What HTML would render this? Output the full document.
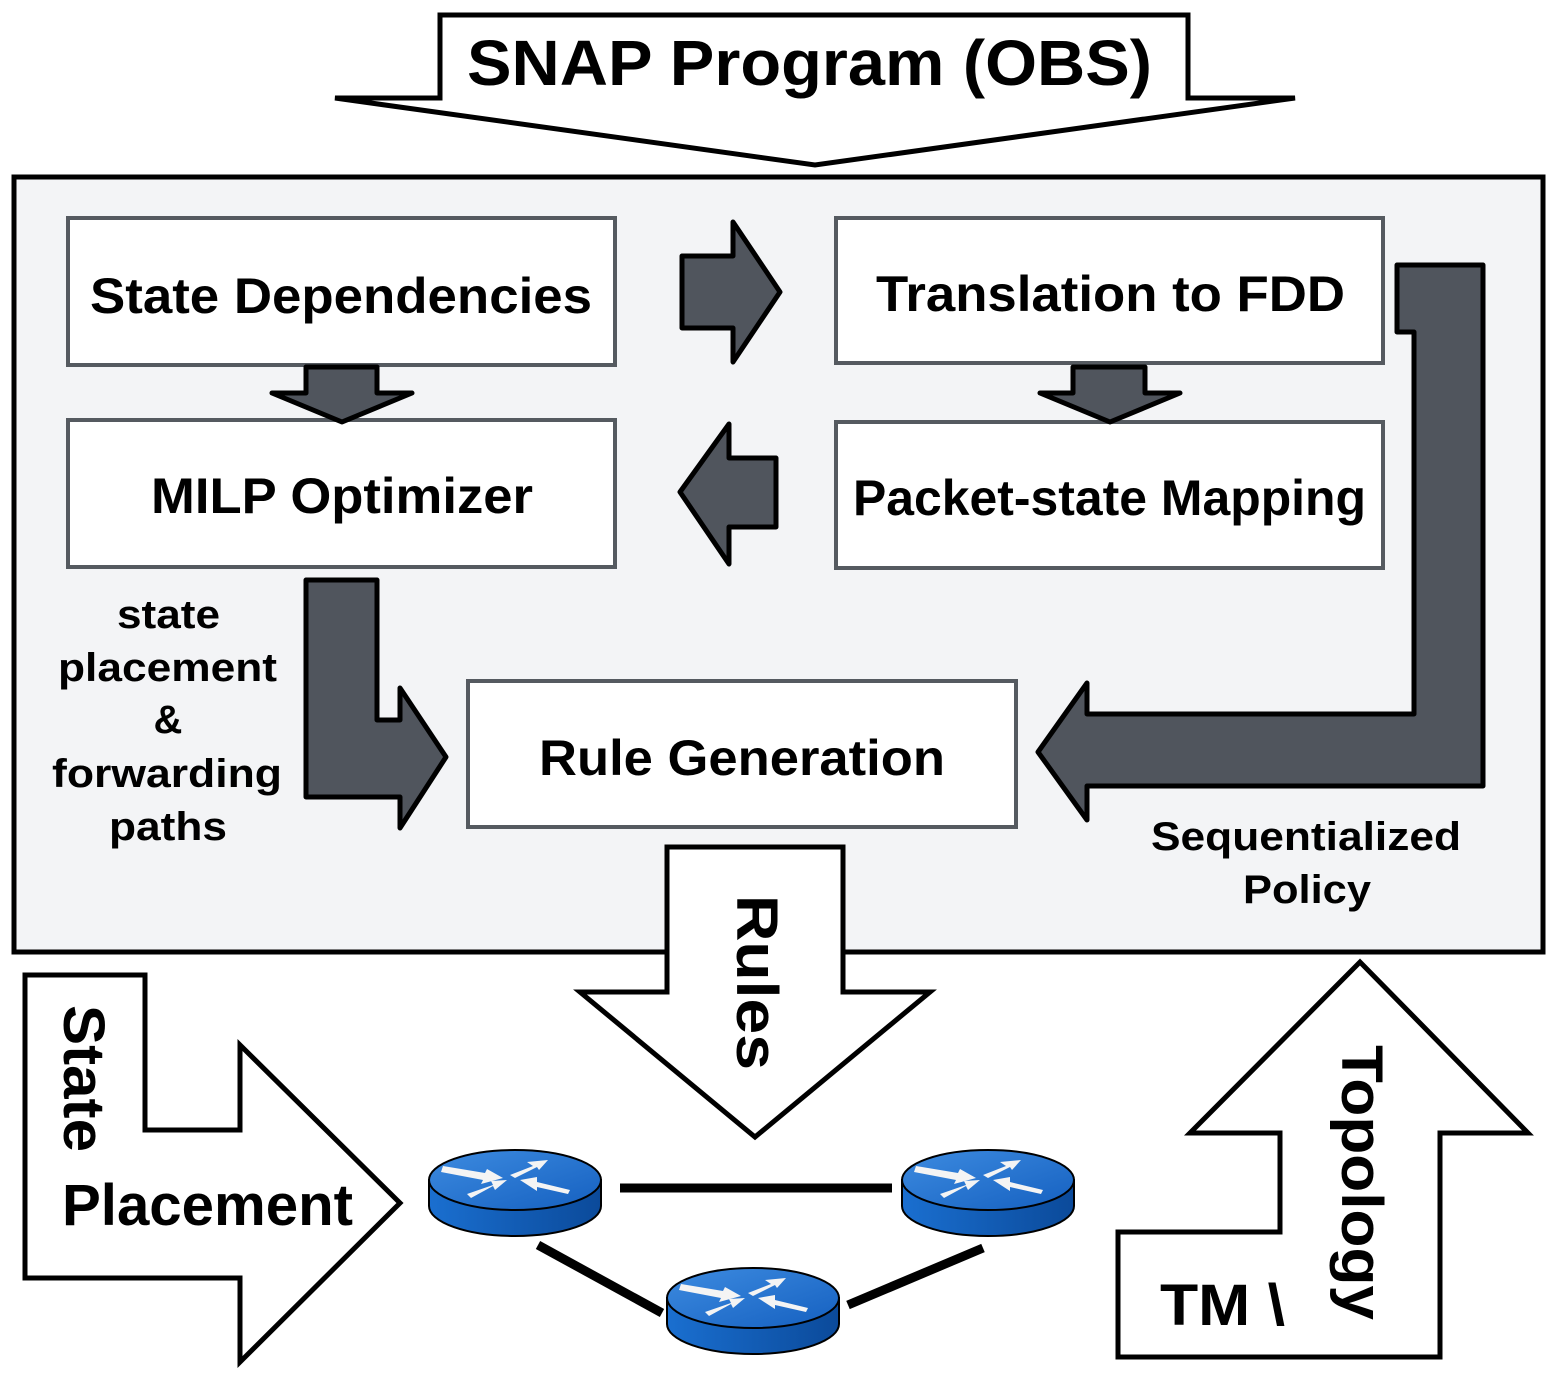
<!DOCTYPE html>
<html><head><style>body{margin:0;background:#fff}svg{display:block}</style></head><body>
<svg width="1557" height="1375" viewBox="0 0 1557 1375" xmlns="http://www.w3.org/2000/svg" font-family="Liberation Sans, Arial, sans-serif" font-weight="bold">
<defs>
<linearGradient id="rs" x1="0" x2="1"><stop offset="0" stop-color="#1a6fd0"/><stop offset="1" stop-color="#0b4a9a"/></linearGradient>
<linearGradient id="rt" x1="0" x2="1" y1="0" y2="1"><stop offset="0" stop-color="#3d8be0"/><stop offset="1" stop-color="#1560c0"/></linearGradient>
<g id="router">
<path d="M-86,0 L-86,26 A86,30 0 0 0 86,26 L86,0 Z" fill="url(#rs)" stroke="#000" stroke-width="2"/>
<ellipse cx="0" cy="0" rx="86" ry="30" fill="url(#rt)" stroke="#000" stroke-width="2"/>
<g fill="#f4f4f4">
<polygon points="-72,-14 -30,-7 -28,-11 -12,-2 -34,4 -32,0 -74,-8"/>
<polygon points="-48,14 -22,5 -24,1 -8,0 -20,10 -22,6 -44,18"/>
<polygon points="-5,-5 18,-14 12,-18 33,-20 24,-10 22,-13 0,-2"/>
<polygon points="5,0 22,-3 22,2 55,10 53,14 22,7 22,11"/>
</g>
</g>
</defs>
<polygon points="440,15 1188,15 1188,98 1295,98 815,165 335,98 440,98" fill="#fff" stroke="#000" stroke-width="5"/>
<text x="467" y="85" font-size="64" textLength="685" lengthAdjust="spacingAndGlyphs">SNAP Program (OBS)</text>
<rect x="14" y="177" width="1529" height="775" fill="#f3f4f6" stroke="#000" stroke-width="5"/>
<g fill="#fff" stroke="#555a60" stroke-width="4">
<rect x="68" y="218" width="547" height="147"/>
<rect x="836" y="218" width="547" height="145"/>
<rect x="68" y="420" width="547" height="147"/>
<rect x="836" y="422" width="547" height="146"/>
<rect x="468" y="681" width="548" height="146"/>
</g>
<g font-size="50" lengthAdjust="spacingAndGlyphs">
<text x="90" y="313" textLength="502" lengthAdjust="spacingAndGlyphs">State Dependencies</text>
<text x="876" y="311" textLength="469" lengthAdjust="spacingAndGlyphs">Translation to FDD</text>
<text x="151" y="513" textLength="382" lengthAdjust="spacingAndGlyphs">MILP Optimizer</text>
<text x="853" y="515" textLength="513" lengthAdjust="spacingAndGlyphs">Packet-state Mapping</text>
<text x="539" y="775" textLength="406" lengthAdjust="spacingAndGlyphs">Rule Generation</text>
</g>
<g fill="#50555d" stroke="#000" stroke-width="5" stroke-linejoin="round">
<polygon points="682,256 733,256 733,222 780,292 733,362 733,328 682,328"/>
<polygon points="776,458 729,458 729,424 680,492 729,564 729,527 776,527"/>
<polygon points="306,367 377,367 377,393 412,393 342,422 272,393 306,393"/>
<polygon points="1073,367 1145,367 1145,393 1180,393 1110,422 1040,393 1073,393"/>
<polygon points="306,580 377,580 377,720 400,720 400,688 446,757 400,828 400,797 306,797"/>
<polygon points="1397,265 1483,265 1483,786 1087,786 1087,820 1038,752 1087,683 1087,714 1414,714 1414,332 1397,332"/>
</g>
<g font-size="40">
<text x="117" y="628" textLength="103" lengthAdjust="spacingAndGlyphs">state</text>
<text x="58" y="681" textLength="219" lengthAdjust="spacingAndGlyphs">placement</text>
<text x="168" y="733" text-anchor="middle">&amp;</text>
<text x="52" y="787" textLength="230" lengthAdjust="spacingAndGlyphs">forwarding</text>
<text x="109" y="840" textLength="118" lengthAdjust="spacingAndGlyphs">paths</text>
<text x="1151" y="850" textLength="310" lengthAdjust="spacingAndGlyphs">Sequentialized</text>
<text x="1243" y="903" textLength="128" lengthAdjust="spacingAndGlyphs">Policy</text>
</g>
<g fill="#fff" stroke="#000" stroke-width="5">
<polygon points="667,847 843,847 843,992 930,992 755,1137 580,992 667,992"/>
<polygon points="25,975 145,975 145,1130 240,1130 240,1045 400,1203 240,1362 240,1278 25,1278"/>
<polygon points="1118,1357 1440,1357 1440,1133 1528,1133 1360,962 1190,1133 1280,1133 1280,1232 1118,1232"/>
</g>
<g font-size="58">
<text transform="translate(737,895) rotate(90)" textLength="175" lengthAdjust="spacingAndGlyphs">Rules</text>
<text transform="translate(64,1005) rotate(90)" textLength="147" lengthAdjust="spacingAndGlyphs">State</text>
<text x="62" y="1225" textLength="291" lengthAdjust="spacingAndGlyphs">Placement</text>
<text x="1160" y="1325" textLength="125" lengthAdjust="spacingAndGlyphs">TM \</text>
<text transform="translate(1342,1045) rotate(90)" textLength="275" lengthAdjust="spacingAndGlyphs">Topology</text>
</g>
<g stroke="#000" stroke-width="9">
<line x1="620" y1="1188" x2="892" y2="1188"/>
<line x1="538" y1="1245" x2="662" y2="1313"/>
<line x1="848" y1="1305" x2="983" y2="1248"/>
</g>
<use href="#router" x="515" y="1180"/>
<use href="#router" x="988" y="1180"/>
<use href="#router" x="753" y="1298"/>
</svg>
</body></html>
